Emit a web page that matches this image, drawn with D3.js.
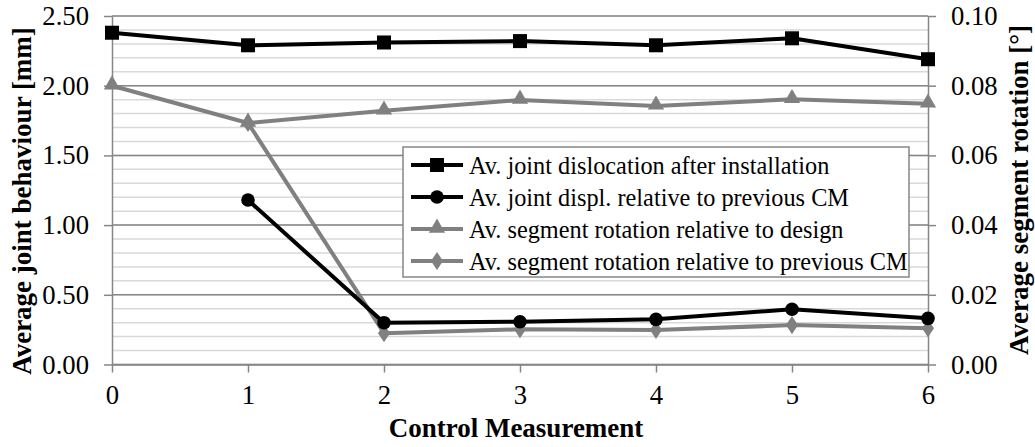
<!DOCTYPE html>
<html>
<head>
<meta charset="utf-8">
<script src="https://cdn.jsdelivr.net/npm/d3@7"></script>
<style>
  html, body { margin: 0; padding: 0; background: #fff; }
  svg { display: block; }
</style>
</head>
<body>
<svg id="chart" width="1035" height="447"></svg>
<script>
// ---- data ----
const controlMeasurements = [0, 1, 2, 3, 4, 5, 6];
const jointDislocation = [2.38, 2.29, 2.31, 2.32, 2.29, 2.34, 2.19];          // left axis [mm]
const jointDisplPrevious = [null, 1.18, 0.30, 0.307, 0.324, 0.396, 0.331];     // left axis [mm]
const rotationDesign = [0.080, 0.0693, 0.0728, 0.0759, 0.0742, 0.0761, 0.0748]; // right axis [°]
const rotationPrevious = [null, 0.0693, 0.0090, 0.0101, 0.0099, 0.0113, 0.0104]; // right axis [°]
const leftTicks = [0, 0.5, 1.0, 1.5, 2.0, 2.5];
const rightTicks = [0, 0.02, 0.04, 0.06, 0.08, 0.10];
const minorTicks = d3.range(0, 26).map(i => i / 10);
const seriesNames = [
  "Av. joint dislocation after installation",
  "Av. joint displ. relative to previous CM",
  "Av. segment rotation relative to design",
  "Av. segment rotation relative to previous CM"
];

// ---- layout ----
const FONT = "'Liberation Serif'";
const svg = d3.select("#chart");
const X0 = 112, X1 = 928, Y0 = 364.5, Y1 = 16;
const x = d3.scaleLinear().domain([0, 6]).range([X0, X1]);
const yL = d3.scaleLinear().domain([0, 2.5]).range([Y0, Y1]);
const yR = d3.scaleLinear().domain([0, 0.1]).range([Y0, Y1]);
const axisCol = "#868686", minorCol = "#d9d9d9";
const black = "#000000", gray = "#808080";
const tickFont = "26.7px";

// minor gridlines
svg.append("g").selectAll("line").data(minorTicks).join("line")
  .attr("x1", X0).attr("x2", X1)
  .attr("y1", d => yL(d)).attr("y2", d => yL(d))
  .attr("stroke", minorCol).attr("stroke-width", 1.5);
// major gridlines
svg.append("g").selectAll("line").data(leftTicks).join("line")
  .attr("x1", X0).attr("x2", X1)
  .attr("y1", d => yL(d)).attr("y2", d => yL(d))
  .attr("stroke", axisCol).attr("stroke-width", 1.5);

function styleAxis(g) {
  g.attr("font-family", null).attr("font-size", null);
  g.select(".domain").attr("stroke", axisCol).attr("stroke-width", 1.5);
  g.selectAll(".tick line").attr("stroke", axisCol).attr("stroke-width", 1.5);
  g.selectAll("text").attr("fill", "#000").style("font-size", tickFont).style("font-family", FONT);
}

svg.append("g").attr("transform", `translate(${X0},0)`)
  .call(d3.axisLeft(yL).tickValues(leftTicks).tickFormat(d3.format(".2f")).tickSize(8).tickPadding(15).tickSizeOuter(0))
  .call(styleAxis);
svg.append("g").attr("transform", `translate(${X1},0)`)
  .call(d3.axisRight(yR).tickValues(rightTicks).tickFormat(d3.format(".2f")).tickSize(8).tickPadding(15).tickSizeOuter(0))
  .call(styleAxis);
svg.append("g").attr("transform", `translate(0,${Y0})`)
  .call(d3.axisBottom(x).tickValues(controlMeasurements).tickFormat(d3.format("d")).tickSize(8).tickPadding(13).tickSizeOuter(0))
  .call(styleAxis);

// axis titles
function title(sel) {
  return sel.attr("text-anchor", "middle").attr("dominant-baseline", "central")
    .style("font-family", FONT).style("font-size", "27px").style("font-weight", "bold");
}
svg.append("text").attr("x", 516).attr("y", 428).call(title).text("Control Measurement");
svg.append("text").attr("transform", "translate(22,201) rotate(-90)").call(title).text("Average joint behaviour [mm]");
svg.append("text").attr("transform", "translate(1019,190) rotate(-90)").call(title).text("Average segment rotation [°]");

// ---- markers ----
function drawMarker(g, type, color, cx, cy) {
  if (type === "square") {
    g.append("rect").attr("x", cx - 7).attr("y", cy - 7).attr("width", 14).attr("height", 14).attr("fill", color);
  } else if (type === "circle") {
    g.append("circle").attr("cx", cx).attr("cy", cy).attr("r", 6.8).attr("fill", color);
  } else if (type === "triangle") {
    g.append("path").attr("d", d3.symbol().type(d3.symbolTriangle).size(115)())
      .attr("transform", `translate(${cx},${cy - 1})`).attr("fill", color);
  } else {
    g.append("path").attr("d", d3.symbol().type(d3.symbolDiamond).size(95)())
      .attr("transform", `translate(${cx},${cy}) scale(1.15,1)`).attr("fill", color);
  }
}

const series = [
  { vals: rotationPrevious, y: yR, color: gray, marker: "diamond" },
  { vals: rotationDesign, y: yR, color: gray, marker: "triangle" },
  { vals: jointDisplPrevious, y: yL, color: black, marker: "circle" },
  { vals: jointDislocation, y: yL, color: black, marker: "square" }
];

series.forEach(s => {
  const pts = controlMeasurements.map((c, i) => ({ c, v: s.vals[i] })).filter(p => p.v !== null);
  const line = d3.line().x(p => x(p.c)).y(p => s.y(p.v));
  svg.append("path").datum(pts).attr("d", line)
    .attr("fill", "none").attr("stroke", s.color).attr("stroke-width", 4)
    .attr("stroke-linejoin", "round");
  const g = svg.append("g");
  pts.forEach(p => drawMarker(g, s.marker, s.color, x(p.c), s.y(p.v)));
});

// ---- legend ----
const lg = svg.append("g");
lg.append("rect").attr("x", 403).attr("y", 147).attr("width", 506).attr("height", 130)
  .attr("fill", "#fff").attr("stroke", axisCol).attr("stroke-width", 1.5);
const legendItems = [
  { name: seriesNames[0], color: black, marker: "square" },
  { name: seriesNames[1], color: black, marker: "circle" },
  { name: seriesNames[2], color: gray, marker: "triangle" },
  { name: seriesNames[3], color: gray, marker: "diamond" }
];
legendItems.forEach((it, i) => {
  const cy = 165 + i * 32;
  lg.append("line").attr("x1", 411).attr("x2", 463).attr("y1", cy).attr("y2", cy)
    .attr("stroke", it.color).attr("stroke-width", 4);
  drawMarker(lg, it.marker, it.color, 437, cy);
  lg.append("text").attr("x", 469).attr("y", cy).attr("dominant-baseline", "central")
    .style("font-family", FONT).style("font-size", "24.3px").text(it.name);
});
</script>
</body>
</html>
